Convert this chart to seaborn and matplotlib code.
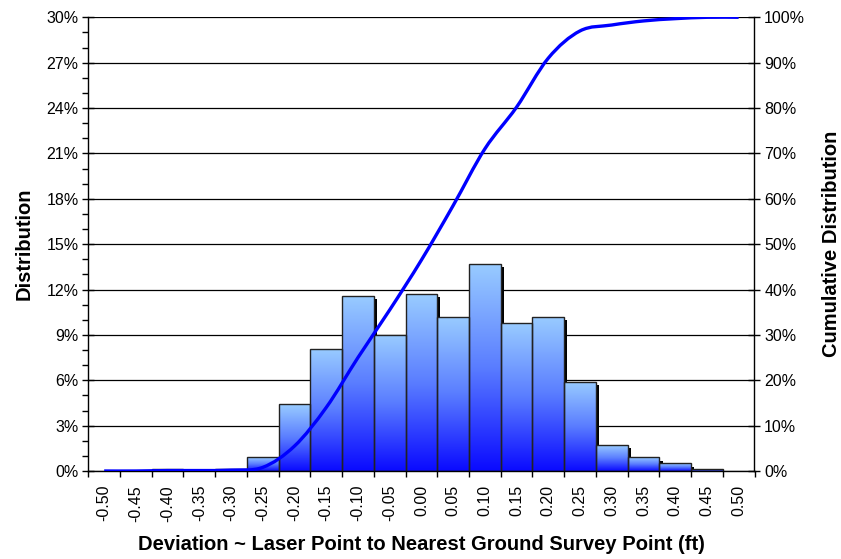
import numpy as np
import pandas as pd
import matplotlib
matplotlib.use("Agg")
import matplotlib.pyplot as plt
import seaborn as sns
import matplotlib.patheffects as pe
from matplotlib.path import Path
from matplotlib.patches import PathPatch, Rectangle
from matplotlib.colors import LinearSegmentedColormap
from matplotlib.ticker import MultipleLocator, FixedLocator, FuncFormatter

# bins (ft) and values, in percent
bins = ['-0.50', '-0.45', '-0.40', '-0.35', '-0.30', '-0.25', '-0.20', '-0.15', '-0.10', '-0.05', '0.00',
        '0.05', '0.10', '0.15', '0.20', '0.25', '0.30', '0.35', '0.40', '0.45', '0.50']
dist = [0, 0, 0.1, 0, 0.1, 0.9, 4.4, 8.1, 11.6, 9.0, 11.7,
        10.2, 13.7, 9.8, 10.2, 5.9, 1.7, 0.9, 0.5, 0.1, 0]
cum = [0, 0, 0.1, 0.1, 0.2, 0.8, 5.5, 14.0, 25.0, 35.5, 46.5,
       58.5, 71.0, 80.2, 91.0, 97.0, 98.3, 99.2, 99.7, 100, 100]

df = pd.DataFrame({'bin': bins, 'dist': np.array(dist) / 100, 'cum': np.array(cum) / 100})

sns.set_theme(style='white')
plt.rcParams['font.family'] = ['Liberation Sans', 'DejaVu Sans']

W, H = 841, 559
fig = plt.figure(figsize=(W / 100, H / 100), dpi=100)
L, R, T, B = 88.3, 754.5, 17.3, 471
ax = fig.add_axes([L / W, 1 - B / H, (R - L) / W, (B - T) / H])

sns.barplot(data=df, x='bin', y='dist', width=1.0, color='white', edgecolor='none',
            ax=ax, zorder=2)

# gradient fill + drop shadow, like the excel bars
grad = np.linspace(0, 1, 256).reshape(-1, 1)
cmap = LinearSegmentedColormap.from_list('bar', ['#0A0AFF', '#5A7DFF', '#99CCFF'])
for p in list(ax.patches):
    x0, w, h = p.get_x(), p.get_width(), p.get_height()
    if h <= 0:
        continue
    p.set_path_effects([pe.SimplePatchShadow(offset=(2.3, -2.3), shadow_rgbFace='black', alpha=1.0),
                        pe.Normal()])
    im = ax.imshow(grad, extent=[x0, x0 + w, 0, h], origin='lower', cmap=cmap,
                   aspect='auto', zorder=2.1, interpolation='bilinear')
    im.set_clip_path(p)
    ax.add_patch(Rectangle((x0, 0), w, h, fill=False, edgecolor='#222222', lw=1.0, zorder=2.2))

ax.set_xlim(-0.5, len(bins) - 0.5)
ax.set_ylim(0, 0.30)
ax.set_aspect('auto')

ax.yaxis.set_major_locator(MultipleLocator(0.03))
ax.yaxis.set_minor_locator(MultipleLocator(0.01))
ax.yaxis.set_major_formatter(FuncFormatter(lambda v, _: f'{v * 100:.0f}%'))
ax.xaxis.set_minor_locator(FixedLocator(np.arange(-0.5, len(bins), 1.0)))
ax.tick_params(axis='x', which='major', length=0, pad=10, labelsize=11.5, rotation=90,
               labelcolor='black')
ax.tick_params(axis='x', which='minor', bottom=True, direction='out', length=4, width=1, color='black')
ax.tick_params(axis='y', which='major', left=True, direction='inout', length=8, width=1,
               color='black', labelsize=11.5, labelcolor='black', pad=3)
ax.tick_params(axis='y', which='minor', left=True, direction='out', length=4, width=1, color='black')

ax.yaxis.grid(True, color='black', lw=0.9)
ax.set_axisbelow(True)
for s in ['top', 'right']:
    ax.spines[s].set_visible(False)
for s in ['left', 'bottom']:
    ax.spines[s].set_color('black')
    ax.spines[s].set_linewidth(1.0)

ax.set_xlabel('Deviation ~ Laser Point to Nearest Ground Survey Point (ft)', fontsize=14.5,
              fontweight='bold', color='black', labelpad=10)
ax.set_ylabel('Distribution', fontsize=14.5, fontweight='bold', color='black', labelpad=9)

# cumulative curve, smoothed the way excel does it
ax2 = ax.twinx()
ax2.set_ylim(0, 1.0)
xs = np.arange(len(bins), dtype=float)
ys = df['cum'].values
n = len(xs)
verts = [(xs[0], ys[0])]
codes = [Path.MOVETO]
for i in range(n - 1):
    a = max(i - 1, 0)
    b = min(i + 2, n - 1)
    c1 = (xs[i] + (xs[i + 1] - xs[a]) / 6, ys[i] + (ys[i + 1] - ys[a]) / 6)
    c2 = (xs[i + 1] - (xs[b] - xs[i]) / 6, ys[i + 1] - (ys[b] - ys[i]) / 6)
    verts += [c1, c2, (xs[i + 1], ys[i + 1])]
    codes += [Path.CURVE4] * 3
ax2.add_patch(PathPatch(Path(verts, codes), facecolor='none', edgecolor='#0000FF', lw=2.4,
                        zorder=5, capstyle='butt'))

ax2.yaxis.set_major_locator(MultipleLocator(0.1))
ax2.yaxis.set_major_formatter(FuncFormatter(lambda v, _: f'{v * 100:.0f}%'))
ax2.tick_params(axis='y', which='major', right=True, direction='inout', length=8, width=1,
                color='black', labelsize=11.5, labelcolor='black', pad=3)
for s in ['top', 'left', 'bottom']:
    ax2.spines[s].set_visible(False)
ax2.spines['right'].set_color('black')
ax2.spines['right'].set_linewidth(1.0)
ax2.set_ylabel('Cumulative Distribution', fontsize=14.5, fontweight='bold', color='black',
               labelpad=12)
ax2.grid(False)

fig.savefig('out.png', dpi=100)
